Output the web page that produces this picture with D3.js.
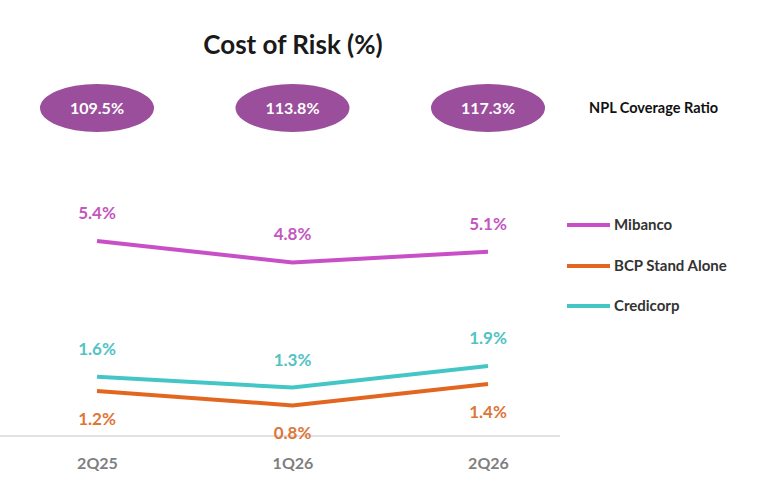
<!DOCTYPE html>
<html lang="en">
<head>
<meta charset="UTF-8">
<style>
  body { margin: 0; background: #fff; font-family: Lato, "Open Sans", sans-serif; }
  text { font-weight: bold; }
</style>
</head>
<body>
<svg id="chart" width="765" height="484"></svg>
<script src="https://d3js.org/d3.v7.min.js"></script>
<script>
// Data
const periods = ["2Q25", "1Q26", "2Q26"];
const coverage = ["109.5%", "113.8%", "117.3%"];
const mibanco = [5.4, 4.8, 5.1];
const bcp = [1.2, 0.8, 1.4];
const credicorp = [1.6, 1.3, 1.9];

const series = [
  { name: "Mibanco", values: mibanco, color: "#c94fc6", text: "#c357c0", pos: "above", legendY: 225 },
  { name: "BCP Stand Alone", values: bcp, color: "#e2661f", text: "#dd7638", pos: "below", legendY: 266 },
  { name: "Credicorp", values: credicorp, color: "#45c6c6", text: "#52c3c3", pos: "above", legendY: 306 }
];

const svg = d3.select("#chart");

const x = d3.scalePoint().domain(periods).range([97, 488]);
const y = d3.scaleLinear().domain([0, 5.4]).range([434, 241]);

// Title
svg.append("text").attr("x", 293).attr("y", 54).attr("text-anchor", "middle")
  .attr("font-size", 26).attr("fill", "#1a1a1a").text("Cost of Risk (%)");

// Coverage ellipses
const cov = svg.append("g").selectAll("g").data(periods).join("g")
  .attr("transform", d => `translate(${x(d)},108)`);
cov.append("ellipse").attr("rx", 57).attr("ry", 24).attr("fill", "#9b4e9c");
cov.append("text").attr("text-anchor", "middle").attr("dy", "0.35em")
  .attr("font-size", 16).attr("fill", "#fff").text((d, i) => coverage[i]);
svg.append("text").attr("x", 589).attr("y", 108).attr("dy", "0.35em")
  .attr("font-size", 14.5).attr("fill", "#111").text("NPL Coverage Ratio");

// Baseline
svg.append("line").attr("x1", 0).attr("x2", 560).attr("y1", 436).attr("y2", 436)
  .attr("stroke", "#d9d9d9").attr("stroke-width", 1.5);

// X axis
const xAxis = svg.append("g").attr("transform", "translate(0,436)")
  .call(d3.axisBottom(x).tickSize(0).tickPadding(22));
xAxis.select(".domain").remove();
xAxis.selectAll("text").attr("font-size", 16).attr("fill", "#7f7f7f")
  .attr("font-family", "Lato, sans-serif").attr("font-weight", "bold");

// Lines and labels
const line = d3.line().x((d, i) => x(periods[i])).y(d => y(d));
series.forEach(s => {
  svg.append("path").datum(s.values).attr("d", line)
    .attr("fill", "none").attr("stroke", s.color).attr("stroke-width", 4);
  svg.append("g").selectAll("text").data(s.values).join("text")
    .attr("x", (d, i) => x(periods[i]))
    .attr("y", d => s.pos === "above" ? y(d) - 22 : y(d) + 34)
    .attr("text-anchor", "middle").attr("font-size", 17).attr("fill", s.text)
    .text(d => d.toFixed(1) + "%");
  // Legend
  svg.append("line").attr("x1", 567).attr("x2", 610).attr("y1", s.legendY).attr("y2", s.legendY)
    .attr("stroke", s.color).attr("stroke-width", 4);
  svg.append("text").attr("x", 614).attr("y", s.legendY).attr("dy", "0.35em")
    .attr("font-size", 15).attr("fill", "#333").text(s.name);
});
</script>
</body>
</html>
